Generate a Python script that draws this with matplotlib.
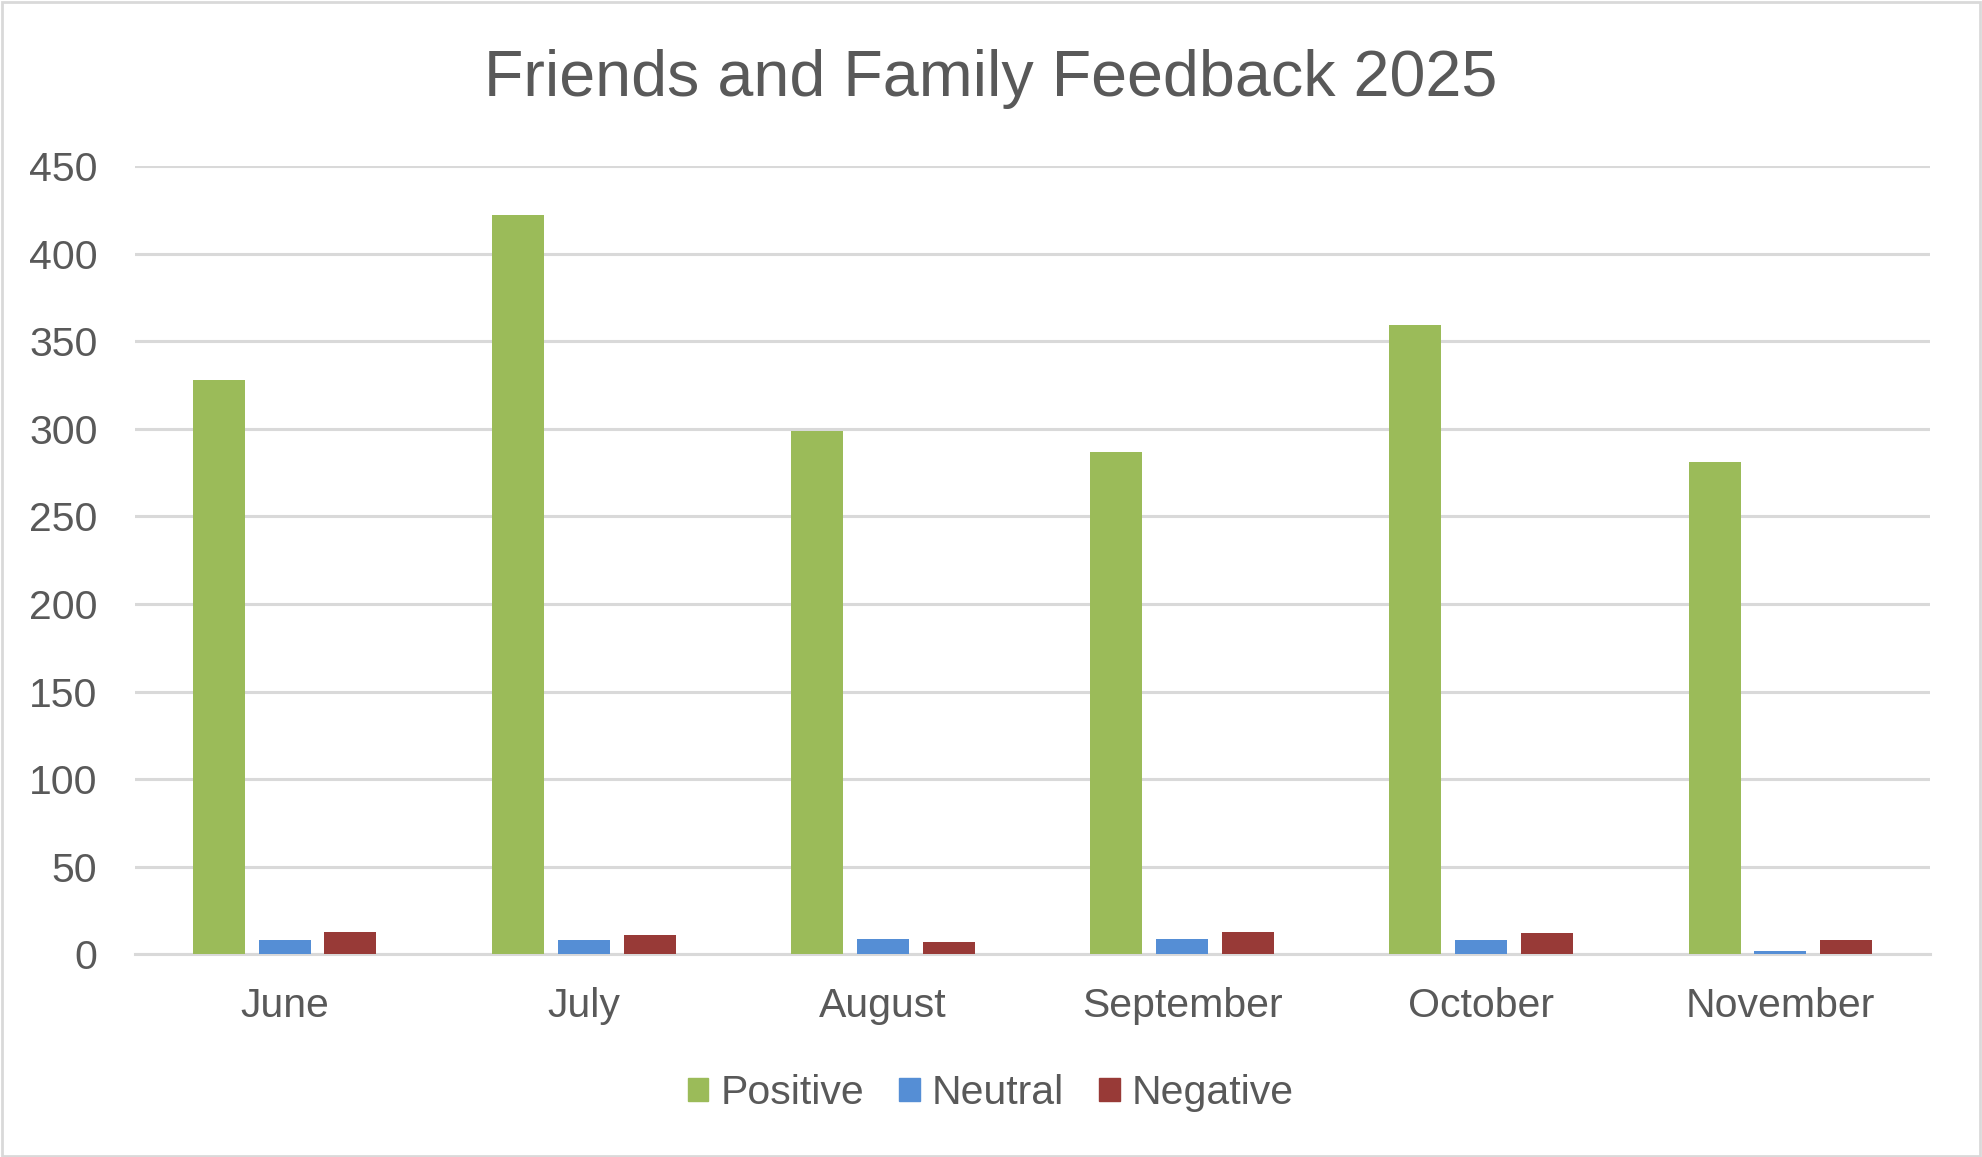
import matplotlib
matplotlib.use("Agg")
import matplotlib.pyplot as plt
import matplotlib.patches as mpatches
import numpy as np

plt.rcParams['font.family'] = ['Liberation Sans', 'DejaVu Sans']

months = ["June", "July", "August", "September", "October", "November"]
positive = [328, 422, 299, 287, 359, 281]
neutral = [8, 8, 9, 9, 8, 2]
negative = [13, 11, 7, 13, 12, 8]
series_names = ["Positive", "Neutral", "Negative"]
colors = ["#9BBB59", "#558ED5", "#983A37"]
yticks = [0, 50, 100, 150, 200, 250, 300, 350, 400, 450]

W, H = 1982, 1157
fig = plt.figure(figsize=(W / 100, H / 100), dpi=100)
fig.patch.set_facecolor("white")
# figure border
fig.add_artist(mpatches.Rectangle((0.001, 0.001), 0.998, 0.997, transform=fig.transFigure,
                                  fill=False, edgecolor="#D9D9D9", linewidth=2.0))

left, right = 135 / W, 1930 / W
bottom, top = (H - 954.3) / H, (H - 166) / H
ax = fig.add_axes([left, bottom, right - left, top - bottom])

x = np.arange(len(months))
width = 0.174
step = 0.22
data = [positive, neutral, negative]
for i, (vals, c, name) in enumerate(zip(data, colors, series_names)):
    ax.bar(x + (i - 1) * step, vals, width=width, color=c, label=name, zorder=3)

ax.set_xlim(-0.5, len(months) - 0.5)
ax.set_ylim(0, 450)
ax.set_yticks(yticks)
ax.set_xticks(x)
ax.set_xticklabels(months)
ax.yaxis.grid(True, color="#D9D9D9", linewidth=2.2, zorder=0)
ax.set_axisbelow(True)
for s in ["top", "right", "left"]:
    ax.spines[s].set_visible(False)
ax.spines["bottom"].set_color("#D9D9D9")
ax.spines["bottom"].set_linewidth(2.2)
ax.tick_params(axis="both", length=0, labelsize=29.5, labelcolor="#595959")
ax.tick_params(axis="y", pad=27)
ax.tick_params(axis="x", pad=23.5)

fig.suptitle("Friends and Family Feedback 2025", x=0.5, y=1 - 79 / H, va="center",
             fontsize=46.5, color="#595959")

handles = [mpatches.Patch(color=c) for c in colors]
fig.legend(handles, series_names, loc="center", bbox_to_anchor=(0.5, 1 - 1093 / H), ncol=3,
           frameon=False, fontsize=29.5, labelcolor="#595959", handlelength=0.5, handleheight=0.5,
           handletextpad=0.3, columnspacing=0.85)

fig.savefig("out.png", dpi=100, facecolor="white")
